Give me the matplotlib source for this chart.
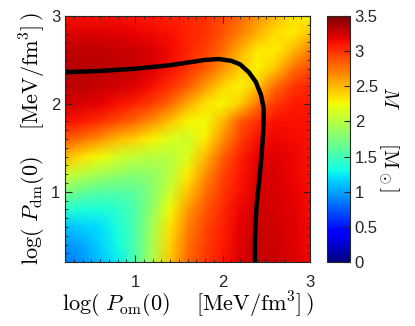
import numpy as np
import matplotlib
matplotlib.use("Agg")
import matplotlib.pyplot as plt
from matplotlib.ticker import MultipleLocator

# grid of log central pressures (columns: P_om, rows: P_dm)
log_p_om = [0.2, 0.4, 0.6, 0.8, 1.0, 1.2, 1.4, 1.6, 1.8, 2.0, 2.2, 2.4, 2.6, 2.8, 3.0]
log_p_dm = [0.2, 0.4, 0.6, 0.8, 1.0, 1.2, 1.4, 1.6, 1.8, 2.0, 2.2, 2.4, 2.6, 2.8, 3.0]

# total mass [M_sun], one row per log_p_dm value
mass = [
    [0.85, 0.95, 1.10, 1.25, 1.55, 1.95, 2.45, 2.80, 2.98, 3.10, 3.22, 3.28, 3.27, 3.22, 3.16],
    [0.95, 1.02, 1.15, 1.30, 1.55, 1.95, 2.40, 2.75, 2.95, 3.08, 3.20, 3.27, 3.26, 3.21, 3.15],
    [1.10, 1.15, 1.20, 1.35, 1.55, 1.92, 2.35, 2.70, 2.92, 3.06, 3.19, 3.27, 3.25, 3.20, 3.15],
    [1.40, 1.35, 1.35, 1.40, 1.55, 1.85, 2.25, 2.60, 2.85, 3.03, 3.17, 3.26, 3.24, 3.19, 3.14],
    [1.75, 1.65, 1.58, 1.58, 1.62, 1.80, 2.10, 2.45, 2.75, 2.97, 3.13, 3.24, 3.23, 3.18, 3.14],
    [2.10, 2.00, 1.92, 1.85, 1.80, 1.85, 2.00, 2.30, 2.65, 2.92, 3.10, 3.22, 3.22, 3.17, 3.13],
    [2.50, 2.35, 2.25, 2.12, 2.05, 2.00, 2.00, 2.15, 2.50, 2.82, 3.05, 3.18, 3.20, 3.16, 3.12],
    [2.85, 2.75, 2.65, 2.50, 2.40, 2.28, 2.15, 2.10, 2.30, 2.65, 2.95, 3.12, 3.17, 3.14, 3.12],
    [3.12, 3.08, 3.00, 2.90, 2.80, 2.65, 2.45, 2.28, 2.25, 2.50, 2.85, 3.02, 3.12, 3.12, 3.12],
    [3.25, 3.22, 3.18, 3.12, 3.05, 2.95, 2.80, 2.55, 2.35, 2.26, 2.42, 2.75, 2.98, 3.08, 3.10],
    [3.30, 3.30, 3.28, 3.25, 3.20, 3.12, 3.00, 2.85, 2.62, 2.38, 2.27, 2.45, 2.78, 2.97, 3.05],
    [3.33, 3.33, 3.32, 3.30, 3.28, 3.22, 3.12, 3.00, 2.85, 2.65, 2.42, 2.28, 2.45, 2.75, 2.92],
    [3.30, 3.30, 3.30, 3.28, 3.26, 3.22, 3.15, 3.06, 2.95, 2.78, 2.52, 2.32, 2.30, 2.50, 2.72],
    [3.22, 3.22, 3.22, 3.20, 3.18, 3.15, 3.12, 3.06, 3.00, 2.88, 2.72, 2.52, 2.36, 2.30, 2.45],
    [3.12, 3.12, 3.12, 3.12, 3.10, 3.08, 3.06, 3.04, 3.00, 2.92, 2.80, 2.65, 2.50, 2.35, 2.28],
]

# black curve (max-mass boundary)
curve_x = [0.2, 0.6, 1.0, 1.4, 1.6, 1.8, 1.96, 2.1, 2.2, 2.3, 2.38, 2.44, 2.47, 2.47, 2.46, 2.43, 2.39, 2.37, 2.37]
curve_y = [2.36, 2.375, 2.40, 2.44, 2.47, 2.50, 2.51, 2.49, 2.45, 2.36, 2.25, 2.10, 1.95, 1.8, 1.6, 1.23, 0.85, 0.47, 0.2]

plt.rcParams["font.family"] = ["Liberation Sans", "DejaVu Sans"]
plt.rcParams["mathtext.fontset"] = "cm"

fig = plt.figure(figsize=(4.15, 3.26), dpi=100)
ax = fig.add_axes([0.157, 0.196, 0.590, 0.755])
cax = fig.add_axes([0.788, 0.196, 0.055, 0.755])

pc = ax.pcolormesh(log_p_om, log_p_dm, np.array(mass), cmap="jet",
                   vmin=0, vmax=3.5, shading="gouraud")
ax.plot(curve_x, curve_y, color="black", lw=3.2, solid_capstyle="butt")

ax.set_xlim(0.2, 3)
ax.set_ylim(0.2, 3)
ax.xaxis.set_major_locator(MultipleLocator(1))
ax.yaxis.set_major_locator(MultipleLocator(1))
ax.xaxis.set_minor_locator(MultipleLocator(0.1))
ax.yaxis.set_minor_locator(MultipleLocator(0.1))
ax.tick_params(which="both", direction="in", top=True, right=True,
               color="#262626", labelsize=12, labelcolor="#262626")
ax.tick_params(which="major", length=5, width=0.8)
ax.tick_params(which="minor", length=2.5, width=0.6)
ax.tick_params(axis="x", pad=9)
for s in ax.spines.values():
    s.set_color("#262626")

ax.set_xlabel(r"$\mathrm{log}(\ P_{\mathrm{om}}(0)\quad\ [\mathrm{MeV/fm}^3]\,)$",
              fontsize=16, labelpad=0)
ax.set_ylabel(r"$\mathrm{log}(\ P_{\mathrm{dm}}(0)\quad\ [\mathrm{MeV/fm}^3]\,)$",
              fontsize=16, labelpad=2)

cb = fig.colorbar(pc, cax=cax, ticks=np.arange(0, 3.51, 0.5))
cb.ax.set_yticklabels(["0", "0.5", "1", "1.5", "2", "2.5", "3", "3.5"])
cb.ax.tick_params(direction="in", length=4, labelsize=12, color="#262626",
                  labelcolor="#262626")
cb.outline.set_edgecolor("#262626")
cb.set_label(r"$M\qquad[\mathrm{M}_\odot]$", rotation=-90, fontsize=15, labelpad=16)

fig.savefig("out.png", dpi=100)
